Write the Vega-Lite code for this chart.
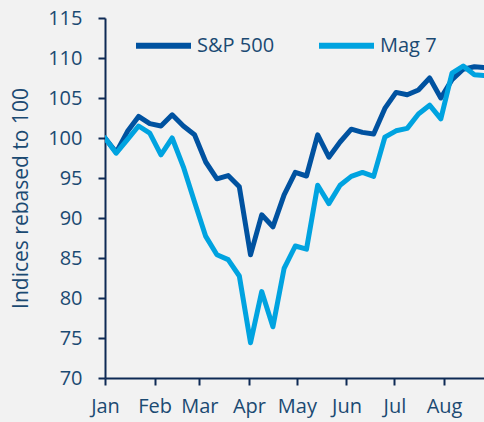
{
  "$schema": "https://vega.github.io/schema/vega-lite/v6.json",
  "autosize": {"type": "none"},
  "width": 379,
  "height": 360,
  "padding": {"left": 105, "top": 18, "right": 0, "bottom": 44},
  "background": "#f2f2f2",
  "config": {
    "view": {"stroke": null},
    "font": "Open Sans",
    "axis": {
      "grid": false,
      "domainColor": "#0e2a55",
      "domainWidth": 2,
      "tickColor": "#0e2a55",
      "tickWidth": 2,
      "tickSize": 7,
      "labelColor": "#1b4a72",
      "labelFontSize": 20,
      "titleColor": "#1b4a72",
      "titleFontSize": 21,
      "titleFontWeight": "normal"
    }
  },
  "data": {
    "values": [
      {"date": "2025/01/01", "series": "S&P 500", "value": 100.0},
      {"date": "2025/01/08", "series": "S&P 500", "value": 98.2},
      {"date": "2025/01/15", "series": "S&P 500", "value": 100.8},
      {"date": "2025/01/22", "series": "S&P 500", "value": 102.7},
      {"date": "2025/01/29", "series": "S&P 500", "value": 101.8},
      {"date": "2025/02/05", "series": "S&P 500", "value": 101.5},
      {"date": "2025/02/12", "series": "S&P 500", "value": 102.9},
      {"date": "2025/02/19", "series": "S&P 500", "value": 101.5},
      {"date": "2025/02/26", "series": "S&P 500", "value": 100.4},
      {"date": "2025/03/05", "series": "S&P 500", "value": 97.0},
      {"date": "2025/03/12", "series": "S&P 500", "value": 94.9},
      {"date": "2025/03/19", "series": "S&P 500", "value": 95.3},
      {"date": "2025/03/26", "series": "S&P 500", "value": 93.9},
      {"date": "2025/04/02", "series": "S&P 500", "value": 85.4},
      {"date": "2025/04/09", "series": "S&P 500", "value": 90.4},
      {"date": "2025/04/16", "series": "S&P 500", "value": 88.9},
      {"date": "2025/04/23", "series": "S&P 500", "value": 92.9},
      {"date": "2025/04/30", "series": "S&P 500", "value": 95.7},
      {"date": "2025/05/07", "series": "S&P 500", "value": 95.25},
      {"date": "2025/05/14", "series": "S&P 500", "value": 100.4},
      {"date": "2025/05/21", "series": "S&P 500", "value": 97.6},
      {"date": "2025/05/28", "series": "S&P 500", "value": 99.5},
      {"date": "2025/06/04", "series": "S&P 500", "value": 101.1},
      {"date": "2025/06/11", "series": "S&P 500", "value": 100.7},
      {"date": "2025/06/18", "series": "S&P 500", "value": 100.5},
      {"date": "2025/06/25", "series": "S&P 500", "value": 103.7},
      {"date": "2025/07/02", "series": "S&P 500", "value": 105.7},
      {"date": "2025/07/09", "series": "S&P 500", "value": 105.4},
      {"date": "2025/07/16", "series": "S&P 500", "value": 106.0},
      {"date": "2025/07/23", "series": "S&P 500", "value": 107.5},
      {"date": "2025/07/30", "series": "S&P 500", "value": 105.0},
      {"date": "2025/08/06", "series": "S&P 500", "value": 107.3},
      {"date": "2025/08/13", "series": "S&P 500", "value": 108.6},
      {"date": "2025/08/20", "series": "S&P 500", "value": 108.9},
      {"date": "2025/08/26", "series": "S&P 500", "value": 108.8},
      {"date": "2025/01/01", "series": "Mag 7", "value": 100.0},
      {"date": "2025/01/08", "series": "Mag 7", "value": 98.1},
      {"date": "2025/01/15", "series": "Mag 7", "value": 99.8},
      {"date": "2025/01/22", "series": "Mag 7", "value": 101.5},
      {"date": "2025/01/29", "series": "Mag 7", "value": 100.6},
      {"date": "2025/02/05", "series": "Mag 7", "value": 97.9},
      {"date": "2025/02/12", "series": "Mag 7", "value": 100.0},
      {"date": "2025/02/19", "series": "Mag 7", "value": 96.4},
      {"date": "2025/02/26", "series": "Mag 7", "value": 92.0},
      {"date": "2025/03/05", "series": "Mag 7", "value": 87.7},
      {"date": "2025/03/12", "series": "Mag 7", "value": 85.4},
      {"date": "2025/03/19", "series": "Mag 7", "value": 84.8},
      {"date": "2025/03/26", "series": "Mag 7", "value": 82.75},
      {"date": "2025/04/02", "series": "Mag 7", "value": 74.4},
      {"date": "2025/04/09", "series": "Mag 7", "value": 80.8},
      {"date": "2025/04/16", "series": "Mag 7", "value": 76.4},
      {"date": "2025/04/23", "series": "Mag 7", "value": 83.7},
      {"date": "2025/04/30", "series": "Mag 7", "value": 86.5},
      {"date": "2025/05/07", "series": "Mag 7", "value": 86.1},
      {"date": "2025/05/14", "series": "Mag 7", "value": 94.1},
      {"date": "2025/05/21", "series": "Mag 7", "value": 91.8},
      {"date": "2025/05/28", "series": "Mag 7", "value": 94.1},
      {"date": "2025/06/04", "series": "Mag 7", "value": 95.2},
      {"date": "2025/06/11", "series": "Mag 7", "value": 95.7},
      {"date": "2025/06/18", "series": "Mag 7", "value": 95.2},
      {"date": "2025/06/25", "series": "Mag 7", "value": 100.1},
      {"date": "2025/07/02", "series": "Mag 7", "value": 100.9},
      {"date": "2025/07/09", "series": "Mag 7", "value": 101.2},
      {"date": "2025/07/16", "series": "Mag 7", "value": 103.0},
      {"date": "2025/07/23", "series": "Mag 7", "value": 104.1},
      {"date": "2025/07/30", "series": "Mag 7", "value": 102.4},
      {"date": "2025/08/06", "series": "Mag 7", "value": 108.1},
      {"date": "2025/08/13", "series": "Mag 7", "value": 109.0},
      {"date": "2025/08/20", "series": "Mag 7", "value": 107.9},
      {"date": "2025/08/26", "series": "Mag 7", "value": 107.8}
    ]
  },
  "mark": {"type": "line", "strokeWidth": 5, "strokeJoin": "round", "strokeCap": "round", "clip": true},
  "encoding": {
    "x": {
      "field": "date",
      "type": "temporal",
      "scale": {"domain": [{"year": 2025, "month": 1, "date": 1}, {"year": 2025, "month": 8, "date": 26}], "nice": false},
      "axis": {
        "title": null,
        "format": "%b",
        "tickCount": {"interval": "month", "step": 1},
        "labelPadding": 11,
        "labelFlush": false,
        "labelOverlap": false
      }
    },
    "y": {
      "field": "value",
      "type": "quantitative",
      "scale": {"domain": [70, 115], "nice": false, "zero": false},
      "axis": {
        "title": "Indices rebased to 100",
        "values": [70, 75, 80, 85, 90, 95, 100, 105, 110, 115],
        "labelPadding": 16,
        "titlePadding": 16
      }
    },
    "color": {
      "field": "series",
      "type": "nominal",
      "scale": {"domain": ["S&P 500", "Mag 7"], "range": ["#0052a0", "#00a3e0"]},
      "legend": {
        "title": null,
        "orient": "none",
        "legendX": 28,
        "legendY": -3,
        "direction": "horizontal",
        "symbolType": "stroke",
        "symbolSize": 3025,
        "symbolStrokeWidth": 6,
        "labelFontSize": 20,
        "labelColor": "#1b4a72",
        "labelOffset": 3,
        "columnPadding": 32
      }
    }
  }
}
